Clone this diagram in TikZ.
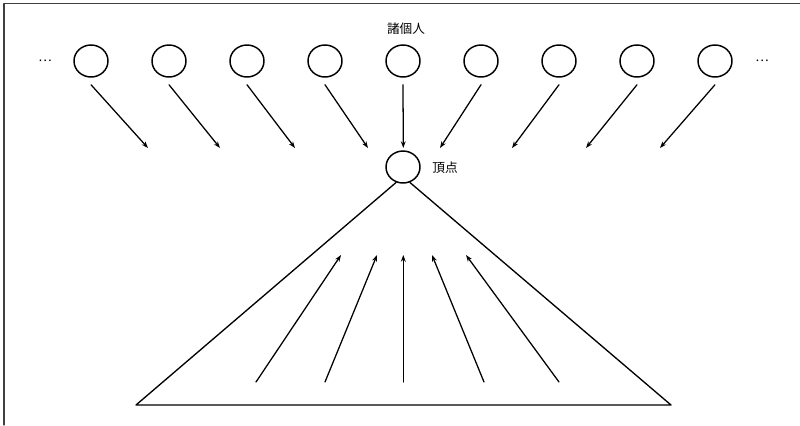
\documentclass[tikz,border=0pt]{standalone}
\usepackage{fontspec}
\newfontfamily\jp{Noto Sans CJK JP}
\usetikzlibrary{arrows.meta,shapes.geometric}
\begin{document}
\begin{tikzpicture}[x=0.75pt, y=-0.75pt, line join=round, line cap=round, >={Stealth[length=5pt,width=3.6pt]},
    font=\jp\fontsize{9.5}{11}\selectfont,
    person/.style={draw, ellipse, line width=1.1pt, minimum width=25.5pt, minimum height=24pt, inner sep=0pt}]
    \useasboundingbox (0,0) rectangle (800,425);
    %\draw[help lines] (0,0) grid[step=50] (800,425);
    \draw[line width=0.8pt, black!75] (800,3.5) -- (4,3.5) -- (4,425);
    % the individuals
    \foreach \i in {1,...,9}
        \node[person] (p\i) at ({91+78*(\i-1)},61) {};
    \node (ldots) at (45,61) {…};
    \node (rdots) at (762,61) {…};
    \node (group) at (406,29) {諸個人};
    % the apex
    \node[person] (top) at (403,167) {};
    \node (toplabel) at (445,168) {頂点};
    \foreach \i/\x in {1/148,2/220,3/295,4/368,5/403.3,6/440,7/512,8/586,9/660}{
        \coordinate (e\i) at (\x,148);
        \draw[->, line width=0.95pt] ([yshift=-5.25pt]p\i.south) -- (e\i);}
    % the pyramid
    \coordinate (bl) at (136,405);
    \coordinate (br) at (671,405);
    \draw[line width=1pt] (top.246) -- (bl) -- (br) -- (top.294);
    \foreach \i/\bx/\hx in {1/256/341,2/325/377,3/403.3/403.3,4/484/432,5/559/466}{
        \coordinate (b\i) at (\bx,382);
        \coordinate (h\i) at (\hx,255);
        \draw[->, line width=0.95pt] (b\i) -- (h\i);}
\end{tikzpicture}
\end{document}
